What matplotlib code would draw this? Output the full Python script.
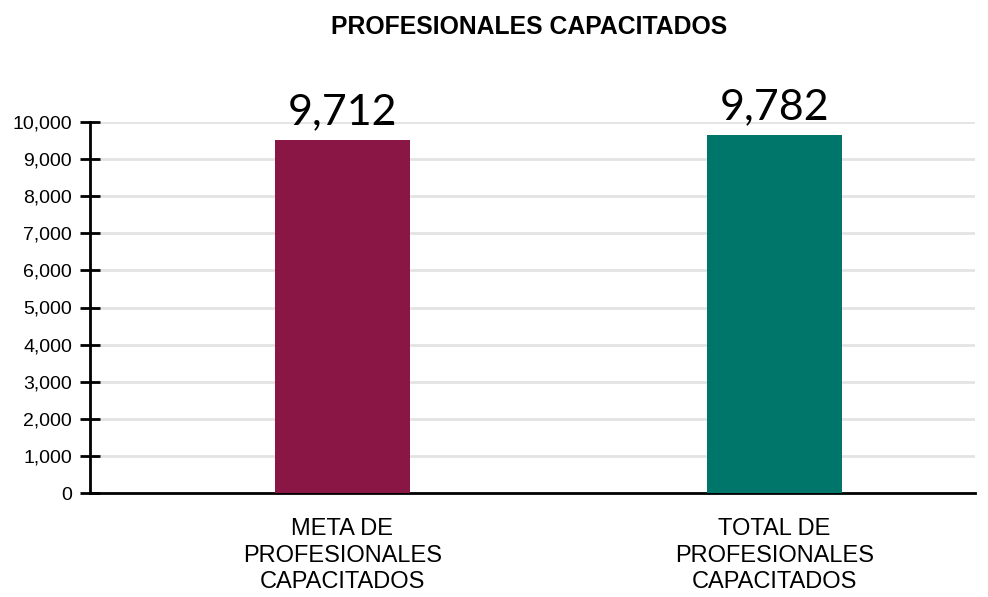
import numpy as np
import matplotlib.pyplot as plt

# data
categories = ["META DE\nPROFESIONALES\nCAPACITADOS", "TOTAL DE\nPROFESIONALES\nCAPACITADOS"]
bar_heights = [9510, 9650]          # drawn height of each bar
value_labels = ["9,712", "9,782"]   # printed values above the bars
bar_colors = ["#8A1645", "#00756A"]
yticks = list(range(0, 10001, 1000))

fig = plt.figure(figsize=(9.88, 5.97), dpi=100)
ax = fig.add_axes([90 / 988, 1 - 493 / 597, 885 / 988, (493 - 122) / 597])

x = np.arange(len(categories))
ax.bar(x, bar_heights, width=0.3125, color=bar_colors, zorder=3)

for xi, h, lab in zip(x, bar_heights, value_labels):
    ax.text(xi, h + 250, lab, ha="center", va="bottom", fontsize=31,
            family=["Lato", "DejaVu Sans"], color="black", clip_on=False)

ax.set_xlim(-0.584, 1.464)
ax.set_ylim(0, 10000)
ax.set_yticks(yticks)
ax.set_yticklabels(["{:,}".format(v) for v in yticks], fontsize=14,
                   family="Liberation Sans")
ax.set_xticks(x)
ax.set_xticklabels(categories, fontsize=17, family="Liberation Sans",
                   linespacing=1.27)
ax.tick_params(axis="x", length=0, pad=18)
ax.tick_params(axis="y", direction="inout", length=14, width=2, pad=6)

ax.grid(axis="y", color="#E3E3E3", linewidth=2, zorder=0)
for s in ["top", "right"]:
    ax.spines[s].set_visible(False)
ax.spines["left"].set_linewidth(2)
ax.spines["bottom"].set_linewidth(2)

fig.text(529 / 988, 1 - 27 / 597, "PROFESIONALES CAPACITADOS", ha="center",
         va="center", fontsize=17.8, fontweight="bold", family="Liberation Sans")

plt.savefig("out.png", dpi=100)
plt.close()
